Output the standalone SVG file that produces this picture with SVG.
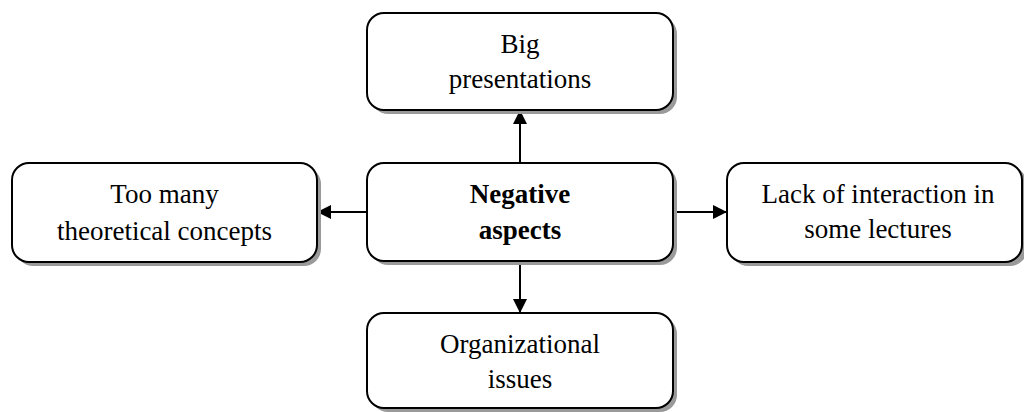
<svg xmlns="http://www.w3.org/2000/svg" width="1024" height="412" viewBox="0 0 1024 412">
<style>
.box{fill:#fff;stroke:#000;stroke-width:2}
.sh{fill:#9a9a9a}
.t{font-family:"Liberation Serif","Times New Roman",serif;font-size:27px;fill:#000;text-anchor:middle}
.b{font-weight:bold}
.c{stroke:#000;stroke-width:2;fill:none;marker-end:url(#ah)}
</style>
<defs>
<marker id="ah" markerWidth="14" markerHeight="14" refX="13" refY="7" orient="auto" markerUnits="userSpaceOnUse">
<path d="M0,0 L14,7 L0,14 Z" fill="#000"/>
</marker>
</defs>
<g id="connectors">
<line class="c" x1="520" y1="163" x2="520" y2="111"/>
<line class="c" x1="367" y1="212" x2="318" y2="212"/>
<line class="c" x1="673" y1="212" x2="726" y2="212"/>
<line class="c" x1="520" y1="261" x2="520" y2="312"/>
</g>
<g id="top">
<rect class="sh" x="371" y="17" width="306" height="97" rx="17"/>
<rect class="box" x="367" y="13" width="306" height="97" rx="17"/>
<text class="t" x="520" y="53">Big</text>
<text class="t" x="520" y="88">presentations</text>
</g>
<g id="center">
<rect class="sh" x="371" y="167" width="306" height="98" rx="17"/>
<rect class="box" x="367" y="163" width="306" height="98" rx="17"/>
<text class="t b" x="520" y="203">Negative</text>
<text class="t b" x="520" y="239">aspects</text>
</g>
<g id="left">
<rect class="sh" x="16" y="167" width="305" height="99" rx="17"/>
<rect class="box" x="12" y="163" width="305" height="99" rx="17"/>
<text class="t" x="164.5" y="203">Too many</text>
<text class="t" x="164.5" y="240">theoretical concepts</text>
</g>
<g id="right">
<rect class="sh" x="731" y="167" width="296" height="99" rx="17"/>
<rect class="box" x="727" y="163" width="295" height="99" rx="17"/>
<text class="t" x="878" y="203">Lack of interaction in</text>
<text class="t" x="878" y="238">some lectures</text>
</g>
<g id="bottom">
<rect class="sh" x="371" y="317" width="306" height="95" rx="17"/>
<rect class="box" x="367" y="313" width="306" height="95" rx="17"/>
<text class="t" x="520" y="353">Organizational</text>
<text class="t" x="520" y="388">issues</text>
</g>
</svg>
